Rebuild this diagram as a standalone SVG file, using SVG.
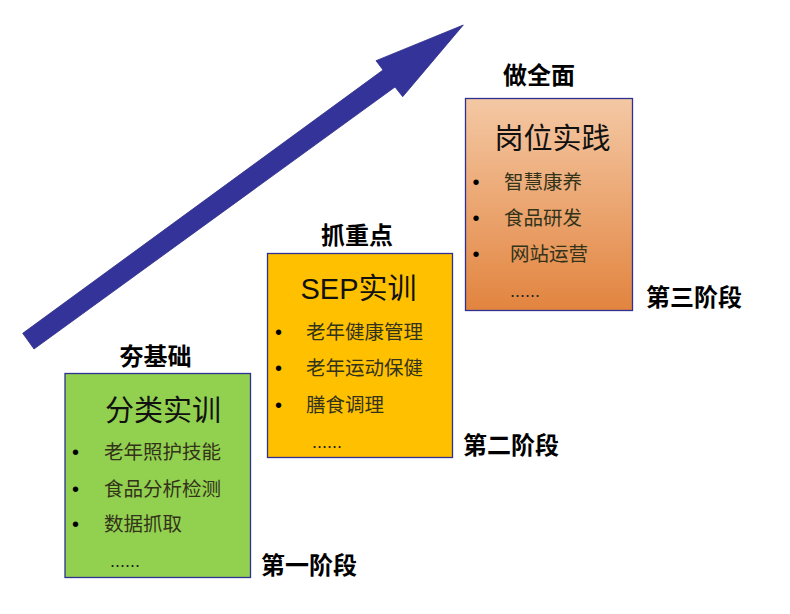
<svg xmlns="http://www.w3.org/2000/svg" width="790" height="614" viewBox="0 0 790 614">
<defs>
<linearGradient id="og" x1="0" y1="0" x2="0" y2="1">
<stop offset="0" stop-color="#f4c8a4"/>
<stop offset="1" stop-color="#e2843f"/>
</linearGradient>
<style>
.box{stroke:#2e3192;stroke-width:1.3}
.head{font-family:"Noto Sans CJK SC","Liberation Sans",sans-serif;font-weight:bold;font-size:24px;fill:#000;text-anchor:middle}
.stage{font-family:"Noto Sans CJK SC","Liberation Sans",sans-serif;font-weight:bold;font-size:24px;fill:#000}
.title{font-family:"Liberation Sans","Noto Sans CJK SC",sans-serif;font-size:29px;fill:#111;text-anchor:middle}
.item{font-family:"Noto Sans CJK SC","Liberation Sans",sans-serif;font-size:19.5px;fill:#33331a}
.dots{font-family:"Liberation Sans",sans-serif;font-size:18px;fill:#222}
.dot{font-family:"Liberation Sans",sans-serif;font-size:20px;fill:#000}
</style>
</defs>
<rect width="790" height="614" fill="#fff"/>
<g id="connectors">
<polygon points="22.7,333.3 383,70 376,60.7 463.3,25 402.7,96.7 395,87 34,349" fill="#333399" stroke="#2e2e8a" stroke-width="0.8"/>
</g>
<g id="stage1">
<rect class="box" x="65" y="373.5" width="185.5" height="204" fill="#92d050"/>
<text class="head" x="155.5" y="365">夯基础</text>
<text class="title" x="163" y="421">分类实训</text>
<text class="dot" x="72" y="459">•</text>
<text class="item" x="104" y="459">老年照护技能</text>
<text class="dot" x="72" y="496">•</text>
<text class="item" x="104" y="496">食品分析检测</text>
<text class="dot" x="72" y="531">•</text>
<text class="item" x="104" y="531">数据抓取</text>
<text class="dots" x="110" y="567">......</text>
<text class="stage" x="261" y="574">第一阶段</text>
</g>
<g id="stage2">
<rect class="box" x="267.5" y="253.5" width="185" height="204" fill="#ffc000"/>
<text class="head" x="357" y="244">抓重点</text>
<text class="title" x="358.5" y="299">SEP实训</text>
<text class="dot" x="275" y="339">•</text>
<text class="item" x="306" y="339">老年健康管理</text>
<text class="dot" x="275" y="375">•</text>
<text class="item" x="306" y="375">老年运动保健</text>
<text class="dot" x="275" y="412">•</text>
<text class="item" x="306" y="412">膳食调理</text>
<text class="dots" x="312" y="448">......</text>
<text class="stage" x="463" y="454">第二阶段</text>
</g>
<g id="stage3">
<rect class="box" x="465.5" y="98.5" width="167" height="212" fill="url(#og)"/>
<text class="head" x="539" y="84">做全面</text>
<text class="title" x="552.5" y="149">岗位实践</text>
<text class="dot" x="472.5" y="189">•</text>
<text class="item" x="504" y="189">智慧康养</text>
<text class="dot" x="472.5" y="225">•</text>
<text class="item" x="504" y="225">食品研发</text>
<text class="dot" x="472.5" y="261">•</text>
<text class="item" x="510" y="261">网站运营</text>
<text class="dots" x="510" y="297">......</text>
<text class="stage" x="646" y="306">第三阶段</text>
</g>
</svg>
